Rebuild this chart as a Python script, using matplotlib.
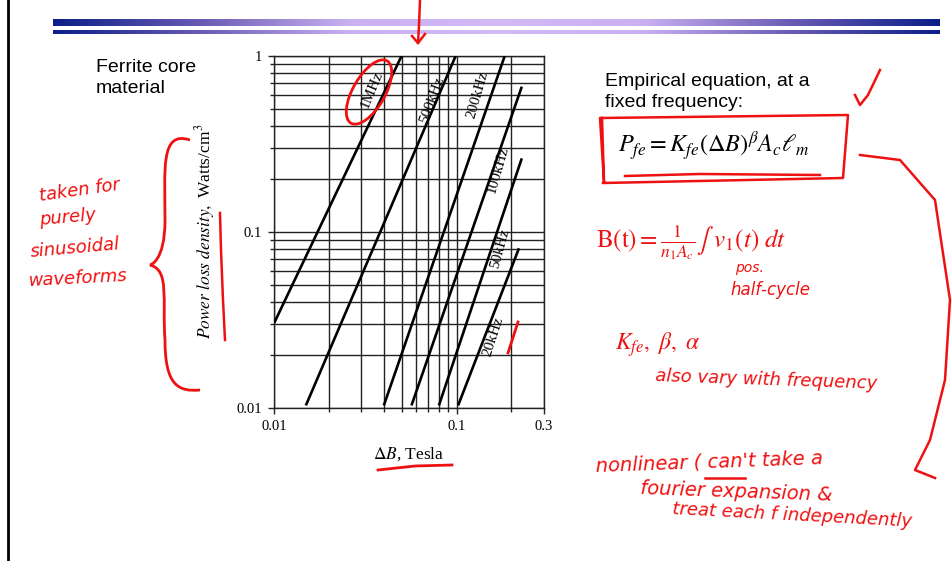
import numpy as np
import matplotlib
matplotlib.use('Agg')
import matplotlib.pyplot as plt
from matplotlib.ticker import FixedLocator, NullFormatter
from matplotlib.patches import Ellipse, PathPatch
from matplotlib.path import Path
from matplotlib.colors import LinearSegmentedColormap

# ---------------- data ----------------
freq_labels = ['1MHz', '500kHz', '200kHz', '100kHz', '50kHz', '20kHz']
dB_start = [0.0100, 0.0149, 0.0399, 0.0566, 0.0800, 0.1020]
P_start = [0.0304, 0.0103, 0.0103, 0.0103, 0.0103, 0.0103]
dB_end = [0.0500, 0.0990, 0.1840, 0.2280, 0.2280, 0.2200]
P_end = [1.000, 1.000, 1.000, 0.667, 0.261, 0.0805]

x_ticks = [0.01, 0.1, 0.3]
x_ticklabels = ['0.01', '0.1', '0.3']
x_minor = [0.02, 0.03, 0.04, 0.05, 0.06, 0.07, 0.08, 0.09, 0.2]
y_ticks = [0.01, 0.1, 1]
y_ticklabels = ['0.01', '0.1', '1']
y_minor = [0.02, 0.03, 0.04, 0.05, 0.06, 0.07, 0.08, 0.09,
           0.2, 0.3, 0.4, 0.5, 0.6, 0.7, 0.8, 0.9]

# ---------------- figure ----------------
plt.rcParams['mathtext.fontset'] = 'stix'
W, H = 952, 561
fig = plt.figure(figsize=(W / 100, H / 100), dpi=100)
fig.patch.set_facecolor('white')

serif = 'Liberation Serif'
sans = 'Liberation Sans'
hand = 'DejaVu Sans'
red = '#ee1111'

ax = fig.add_axes([274.3 / W, 1 - 407.7 / H, (543.5 - 274.3) / W, (407.7 - 55.7) / H])
ax.set_xscale('log')
ax.set_yscale('log')
ax.set_xlim(0.01, 0.3)
ax.set_ylim(0.01, 1)

ax.xaxis.set_major_locator(FixedLocator(x_ticks))
ax.xaxis.set_minor_locator(FixedLocator(x_minor))
ax.yaxis.set_major_locator(FixedLocator(y_ticks))
ax.yaxis.set_minor_locator(FixedLocator(y_minor))
ax.set_xticklabels(x_ticklabels, fontfamily=serif, fontsize=10.5)
ax.set_yticklabels(y_ticklabels, fontfamily=serif, fontsize=10.5)
ax.xaxis.set_minor_formatter(NullFormatter())
ax.yaxis.set_minor_formatter(NullFormatter())
ax.tick_params(which='major', direction='out', length=4, width=1, color='#222222', pad=5)
ax.tick_params(which='minor', direction='out', length=3, width=1, color='#222222')
ax.grid(True, which='both', color='#222222', linewidth=1.0)
ax.set_axisbelow(True)
for s in ax.spines.values():
    s.set_color('#222222')
    s.set_linewidth(1.0)

for xs, ys, xe, ye in zip(dB_start, P_start, dB_end, P_end):
    ax.plot([xs, xe], [ys, ye], color='black', linewidth=1.9, solid_capstyle='butt', zorder=3)

# frequency labels placed along each curve
label_pos = [(0.0342, 0.638), (0.0732, 0.560), (0.131, 0.598),
             (0.169, 0.224), (0.173, 0.0808), (0.159, 0.0253)]
fig.canvas.draw()
for lab, (lx, ly), xs, ys, xe, ye in zip(freq_labels, label_pos, dB_start, P_start, dB_end, P_end):
    p0 = ax.transData.transform((xs, ys))
    p1 = ax.transData.transform((xe, ye))
    ang = np.degrees(np.arctan2(p1[1] - p0[1], p1[0] - p0[0]))
    ax.text(lx, ly, lab, rotation=ang + 3, rotation_mode='anchor', ha='center', va='center',
            fontfamily=serif, fontsize=11, zorder=4)

ax.set_xlabel(r'$\Delta\mathit{B}$, Tesla', fontfamily=serif, fontsize=12.5, labelpad=9)
ax.set_ylabel(r'$\mathit{Power\ loss\ density,}$ Watts/cm$^3$', fontfamily=serif, fontsize=12.5,
              labelpad=14)

# ---------------- overlay in pixel coordinates ----------------
ov = fig.add_axes([0, 0, 1, 1], facecolor='none')
ov.set_zorder(5)

# header bars with gradient
cmap = LinearSegmentedColormap.from_list('bar', ['#0c1f88', '#6a5cb4', '#c9b0f2', '#d2baf6',
                                                  '#c9b0f2', '#6a5cb4', '#0c1f88'])
grad = np.linspace(0, 1, 512).reshape(1, -1)
ov.imshow(grad, cmap=cmap, extent=[53, 940, 25.5, 18.5], aspect='auto', zorder=1)
ov.imshow(grad, cmap=cmap, extent=[53, 940, 34, 30], aspect='auto', zorder=1)
ov.set_xlim(0, W)
ov.set_ylim(H, 0)
ov.axis('off')

# left border line
ov.plot([8, 8], [0, H], color='black', linewidth=2)

# texts
ov.text(96, 78, 'Ferrite core\nmaterial', fontfamily=sans, fontsize=14, va='center',
        ha='left', linespacing=1.3)
ov.text(605, 92, 'Empirical equation, at a\nfixed frequency:', fontfamily=sans, fontsize=14,
        va='center', ha='left', linespacing=1.3)
ov.text(618, 146, r'$P_{fe} = K_{fe}(\Delta B)^{\beta}A_{c}\ell_{m}$', fontsize=17.5,
        va='center', ha='left')

# ---------------- handwritten red annotations ----------------
kw = dict(color=red, fontfamily=hand, fontstyle='oblique', zorder=6)
ov.text(38, 190, 'taken for', fontsize=13, rotation=8, **kw, va='center')
ov.text(38, 218, 'purely', fontsize=13, rotation=5, **kw, va='center')
ov.text(30, 248, 'sinusoidal', fontsize=13, rotation=5, **kw, va='center')
ov.text(28, 278, 'waveforms', fontsize=13, rotation=3, **kw, va='center')
brace = Path([(190, 140), (160, 130), (165, 170), (165, 220), (165, 262), (150, 265),
              (150, 265), (170, 270), (162, 300), (165, 340), (165, 385), (178, 392), (200, 390)],
             [Path.MOVETO, Path.CURVE4, Path.CURVE4, Path.CURVE4, Path.CURVE4, Path.CURVE4,
              Path.LINETO, Path.CURVE4, Path.CURVE4, Path.CURVE4, Path.CURVE4, Path.CURVE4,
              Path.CURVE4])
ov.add_patch(PathPatch(brace, fill=False, edgecolor=red, linewidth=2, zorder=6))
ov.plot([220, 221, 223, 225], [213, 250, 300, 340], color=red, linewidth=1.8)
ov.add_patch(Ellipse((369, 92), 32, 72, angle=30, fill=False, edgecolor=red, linewidth=2))
ov.plot([420, 419, 418], [0, 25, 43], color=red, linewidth=1.8)
ov.plot([412, 418, 425], [36, 43, 34], color=red, linewidth=1.8)
ov.plot([508, 518], [353, 322], color=red, linewidth=2)
ov.plot([378, 415, 452], [470, 466, 465], color=red, linewidth=2)
ov.plot([855, 860, 868, 880], [95, 105, 95, 70], color=red, linewidth=1.8)
ov.plot([602, 604, 600, 848, 843, 603], [118, 182, 118, 115, 178, 183], color=red, linewidth=1.8)
ov.plot([625, 700, 820], [176, 174, 175], color=red, linewidth=1.8)
ov.plot([860, 900, 935, 950, 945, 930, 915, 935], [155, 160, 200, 300, 380, 440, 470, 478],
        color=red, linewidth=1.8)
ov.text(596, 243, r'$\mathrm{B(t)} = \frac{1}{n_1 A_c}\int\ v_1(t)\ dt$', fontsize=18,
        color=red, va='center', ha='left', zorder=6)
ov.text(735, 268, 'pos.', fontsize=10, **kw, va='center')
ov.text(730, 290, 'half-cycle', fontsize=12, **kw, va='center')
ov.text(615, 345, r'$K_{fe},\ \beta,\ \alpha$', fontsize=17, color=red, va='center', zorder=6)
ov.text(655, 380, 'also vary with frequency', fontsize=13, rotation=-2, **kw, va='center')
ov.text(595, 462, "nonlinear ( can't take a", fontsize=14, rotation=2, **kw, va='center')
ov.plot([705, 745], [478, 478], color=red, linewidth=1.8)
ov.text(640, 492, 'fourier expansion &', fontsize=14, rotation=-2, **kw, va='center')
ov.text(672, 515, 'treat each f independently', fontsize=13, rotation=-3, **kw, va='center')

fig.savefig('out.png', dpi=100, facecolor='white')
